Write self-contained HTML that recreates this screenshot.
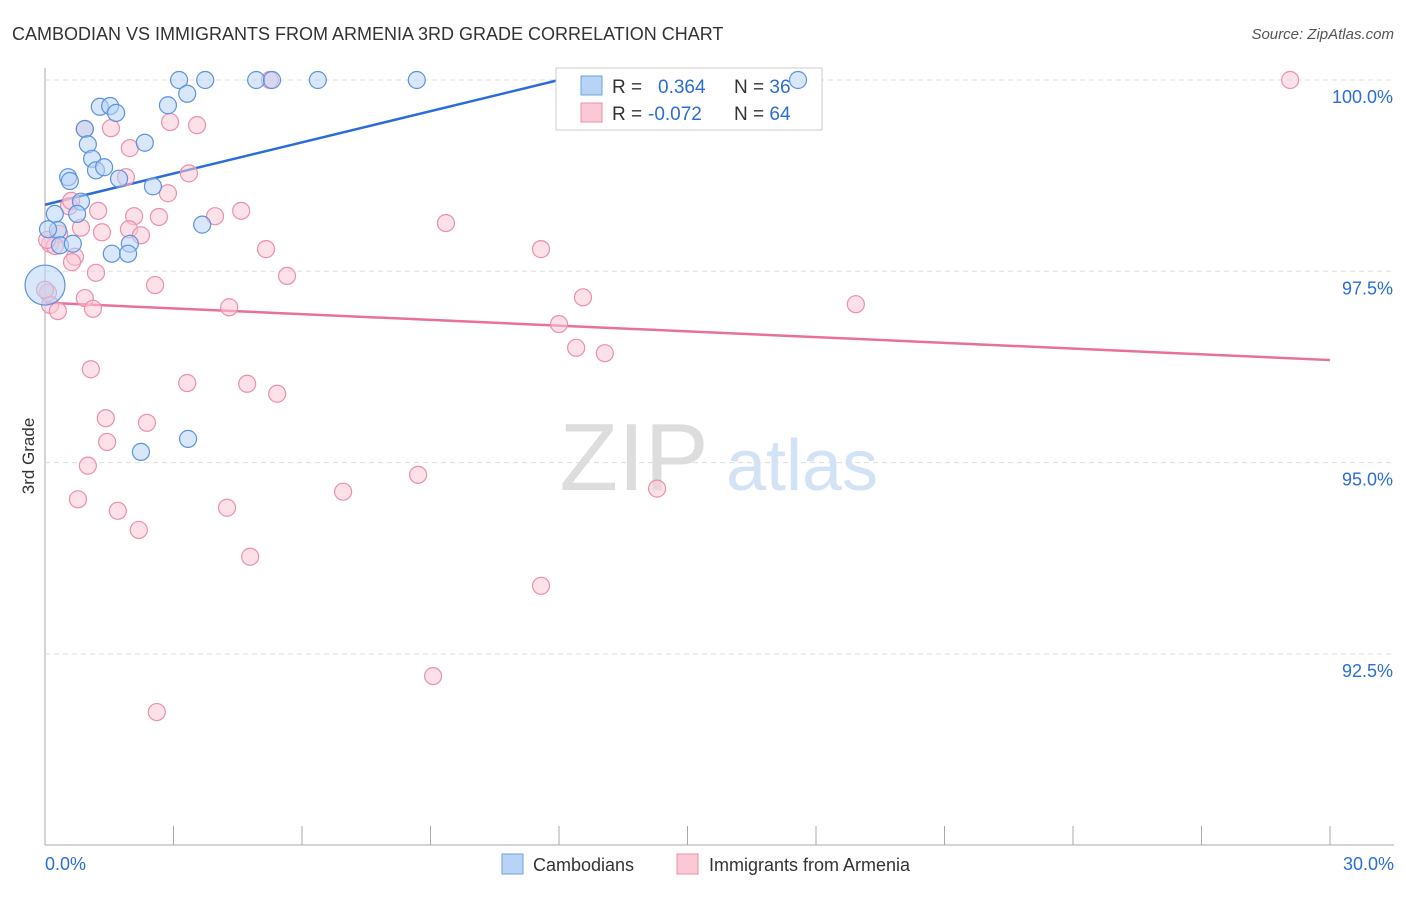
<!DOCTYPE html>
<html><head><meta charset="utf-8"><style>
body{margin:0;background:#fff;font-family:"Liberation Sans",sans-serif}
svg text{font-family:"Liberation Sans",sans-serif}
</style></head><body>
<svg id="c" width="1406" height="892">
<text x="12" y="40" font-size="18" fill="#333">CAMBODIAN VS IMMIGRANTS FROM ARMENIA 3RD GRADE CORRELATION CHART</text>
<text x="1394" y="39" font-size="15" fill="#555" font-style="italic" text-anchor="end">Source: ZipAtlas.com</text>
<text x="34" y="456" font-size="17" fill="#333" transform="rotate(-90 34 456)" text-anchor="middle">3rd Grade</text>
<g><text x="634" y="490" font-size="96" fill="#ddd" font-family="Liberation Serif" text-anchor="middle">ZIP</text><text x="802" y="490" font-size="72" fill="#d3e2f5" text-anchor="middle">atlas</text></g>
<g id="grid"></g><g id="lines"></g>
<g>
<rect x="556" y="68" width="266" height="62" fill="#fff" stroke="#ccc"/>
<rect x="581" y="76" width="21" height="19" fill="#b8d4f5" stroke="#6ea0e0"/>
<rect x="581" y="103" width="21" height="19" fill="#fbc8d6" stroke="#ec8fac"/>
<text x="612" y="93" font-size="19" fill="#333">R = <tspan fill="#2a6dd9" x="658">0.364</tspan><tspan x="734" fill="#333">N = </tspan><tspan fill="#2a6dd9">36</tspan></text>
<text x="612" y="120" font-size="19" fill="#333">R = <tspan fill="#2a6dd9" x="648">-0.072</tspan><tspan x="734" fill="#333">N = </tspan><tspan fill="#2a6dd9">64</tspan></text>
</g>
<g id="pts"></g>
<text x="45" y="870" font-size="18" fill="#2a6dd9">0.0%</text>
<text x="1394" y="870" font-size="18" fill="#2a6dd9" text-anchor="end">30.0%</text>
<g>
<rect x="502" y="854" width="21" height="20" fill="#b8d4f5" stroke="#6ea0e0"/>
<text x="533" y="871" font-size="18" fill="#333">Cambodians</text>
<rect x="677" y="854" width="21" height="20" fill="#fbc8d6" stroke="#ec8fac"/>
<text x="709" y="871" font-size="18" fill="#333">Immigrants from Armenia</text>
</g>
</svg>
<script>
const blueX=[3.13,3.74,4.93,5.30,6.37,8.68,17.58,1.28,1.52,1.66,3.32,2.87,0.93,1.00,1.10,1.19,1.38,2.33,0.54,0.58,1.73,2.52,0.84,0.23,0.75,0.30,0.07,0.35,0.65,1.98,1.56,1.94,3.67,3.34,2.24,0];
const blueY=[100,100,100,100,100,100,100,99.65,99.66,99.57,99.82,99.67,99.36,99.16,98.97,98.82,98.86,99.18,98.73,98.68,98.71,98.61,98.41,98.25,98.25,98.04,98.05,97.84,97.86,97.86,97.73,97.73,98.11,95.31,95.14,97.32];
const pinkX=[5.25,29.07,0.93,1.54,2.92,3.55,1.98,3.36,1.89,2.87,1.24,2.08,2.66,3.97,4.58,0.56,0.61,0.84,1.33,1.96,2.24,9.36,11.58,5.16,0.33,0.12,0.23,0.70,0.63,1.19,5.65,2.57,0.07,0.93,0.12,0.30,1.12,4.30,12.56,18.93,12.00,12.40,13.07,1.07,3.32,4.72,5.42,1.42,2.38,1.45,1.00,8.71,6.96,14.29,0.77,4.25,1.70,2.19,4.79,11.58,9.06,2.61,0.05,0];
const pinkY=[100,100,99.36,99.37,99.45,99.41,99.11,98.78,98.73,98.52,98.29,98.22,98.21,98.22,98.29,98.35,98.42,98.07,98.01,98.05,97.97,98.13,97.79,97.79,97.99,97.86,97.83,97.69,97.62,97.48,97.44,97.32,97.22,97.15,97.06,96.98,97.01,97.03,97.16,97.07,96.81,96.50,96.43,96.22,96.04,96.03,95.90,95.58,95.52,95.27,94.96,94.84,94.62,94.66,94.52,94.41,94.37,94.12,93.77,93.39,92.21,91.74,97.91,97.26];
const yTicks=[100,97.5,95,92.5];
const yTickLabels=["100.0%","97.5%","95.0%","92.5%"];
const xTicks=[0,3,6,9,12,15,18,21,24,27,30];
const blueTrend=[[0,98.37],[12,100.0]];
const pinkTrend=[[0,97.09],[30,96.34]];
const NS="http://www.w3.org/2000/svg";
const sx=v=>45+v/30*1285, sy=v=>80+(100-v)*76.52;
function mk(t,a,p){const e=document.createElementNS(NS,t);for(const k in a)e.setAttribute(k,a[k]);p.appendChild(e);return e;}
const grid=document.getElementById('grid');
let ax=mk('line',{x1:45,y1:68,x2:45,y2:845,stroke:'#aaa'},grid);


let bx=mk('line',{x1:45,y1:845,x2:1394,y2:845,stroke:'#aaa'},grid);


yTicks.forEach((v,i)=>{
 const g=mk('line',{x1:45,y1:sy(v),x2:1394,y2:sy(v),stroke:'#ddd','stroke-dasharray':'5,4'},grid);
 
 
 const t=mk('text',{x:1393,y:sy(v)+23,'font-size':18,fill:'#2a6dd9','text-anchor':'end'},grid);
 t.textContent=yTickLabels[i];
 
 
});
xTicks.forEach(v=>{
 const l=mk('line',{x1:sx(v),y1:826,x2:sx(v),y2:845,stroke:'#aaa'},grid);
 
 
});
const pts=document.getElementById('pts');
function series(X,Y,fill,stroke,name,bigFirst){X.forEach((x,i)=>{
 const big=bigFirst&&(x===0);
 const c=mk('circle',{cx:sx(x),cy:sy(Y[i]),r:big?20:8.5,fill:fill,'fill-opacity':0.55,stroke:stroke,'stroke-width':1.2},pts);
 
 
});}
series(pinkX,pinkY,'#fbc8d6','#ec8fac','point-armenia',false);
series(blueX,blueY,'#b8d4f5','#5b93de','point-cambodians',true);
const lines=document.getElementById('lines');
const b=mk('line',{x1:sx(blueTrend[0][0]),y1:sy(blueTrend[0][1]),x2:sx(blueTrend[1][0]),y2:sy(blueTrend[1][1]),stroke:'#2a6dd9','stroke-width':2.5},lines);


const p=mk('line',{x1:sx(pinkTrend[0][0]),y1:sy(pinkTrend[0][1]),x2:sx(pinkTrend[1][0]),y2:sy(pinkTrend[1][1]),stroke:'#e8709a','stroke-width':2.5},lines);


</script>
</body></html>
